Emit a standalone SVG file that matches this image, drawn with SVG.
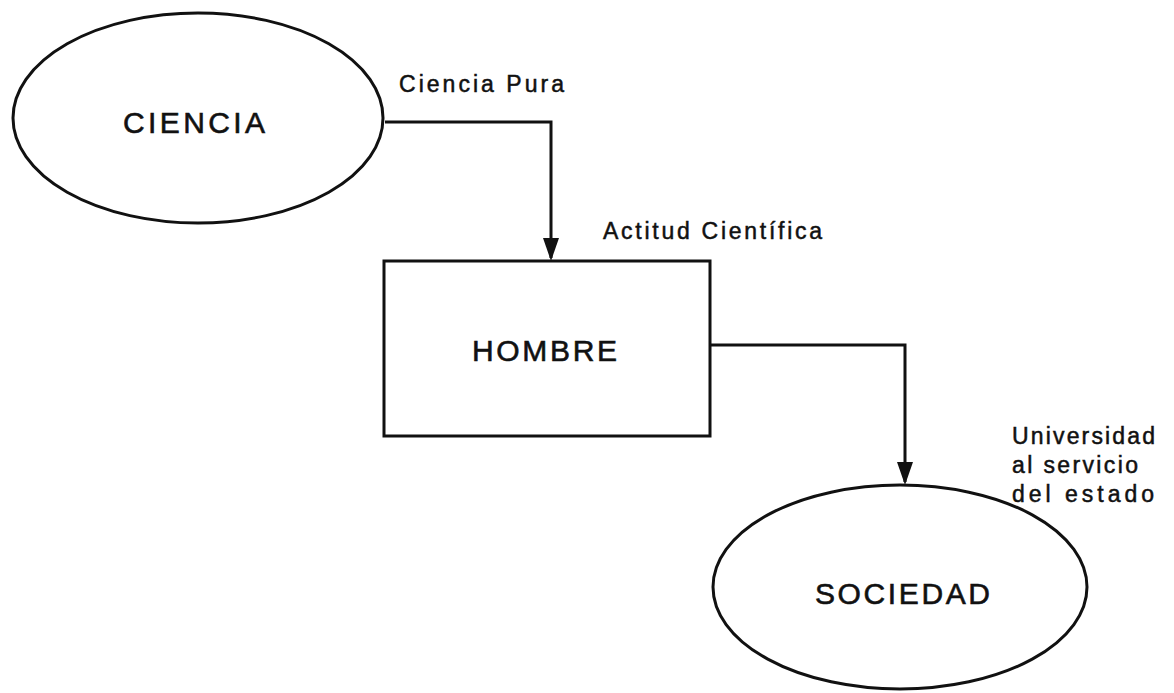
<svg xmlns="http://www.w3.org/2000/svg" width="1174" height="693" viewBox="0 0 1174 693">
  <defs>
    <style>
      .shape { fill: none; stroke: #111; stroke-width: 3; }
      .conn { fill: none; stroke: #111; stroke-width: 3; }
      .title { font-family: "Liberation Sans", Arial, sans-serif; font-size: 30px; fill: #111; stroke: #111; stroke-width: 0.6; }
      .label { font-family: "Liberation Sans", Arial, sans-serif; font-size: 23px; fill: #111; stroke: #111; stroke-width: 0.5; }
    </style>
    <marker id="arrow" viewBox="0 0 23 16" refX="20" refY="8" markerWidth="23" markerHeight="16" markerUnits="userSpaceOnUse" orient="auto">
      <path d="M0,0 L23,8 L0,16 Z" fill="#111"/>
    </marker>
  </defs>
  <rect width="1174" height="693" fill="#ffffff"/>

  <g id="connectors">
    <path class="conn" d="M385,122 H551 V258" marker-end="url(#arrow)"/>
    <path class="conn" d="M710,345 H905 V482" marker-end="url(#arrow)"/>
    <text class="label" x="399" y="92" textLength="165" lengthAdjust="spacing">Ciencia Pura</text>
    <text class="label" x="603" y="239" textLength="219" lengthAdjust="spacing">Actitud Científica</text>
    <text class="label" x="1012" y="444" textLength="143" lengthAdjust="spacing">Universidad</text>
    <text class="label" x="1012" y="473" textLength="126" lengthAdjust="spacing">al servicio</text>
    <text class="label" x="1012" y="502" textLength="142" lengthAdjust="spacing">del estado</text>
  </g>

  <g id="ciencia">
    <ellipse class="shape" cx="198" cy="118" rx="185" ry="105"/>
    <text class="title" x="123" y="133" textLength="142" lengthAdjust="spacing">CIENCIA</text>
  </g>

  <g id="hombre">
    <rect class="shape" x="384" y="261" width="326" height="175"/>
    <text class="title" x="472" y="361" textLength="145" lengthAdjust="spacing">HOMBRE</text>
  </g>

  <g id="sociedad">
    <ellipse class="shape" cx="900" cy="587" rx="187" ry="102"/>
    <text class="title" x="815" y="604" font-size="32" textLength="175" lengthAdjust="spacing">SOCIEDAD</text>
  </g>
</svg>
